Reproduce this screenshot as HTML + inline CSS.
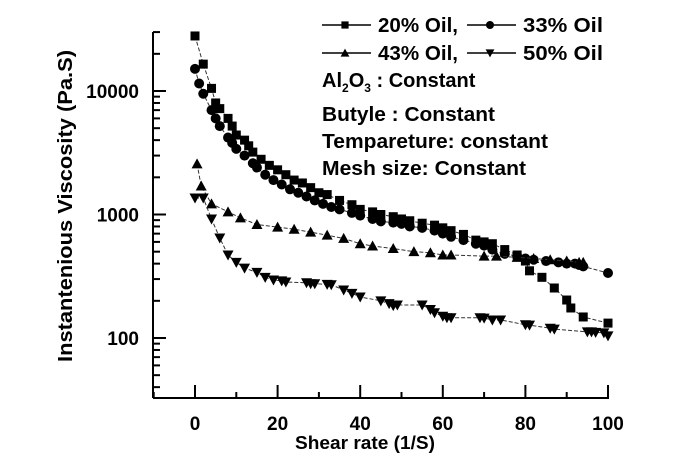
<!DOCTYPE html>
<html><head><meta charset="utf-8"><style>
body{margin:0;background:#fff}
svg{display:block;font-family:"Liberation Sans",Arial,sans-serif;font-weight:bold}
</style></head><body>
<svg id="c" width="695" height="464">
<g id="axes"></g><g id="series"></g>
<g font-size="20">
 <g id="leg"></g>
 <text x="322" y="87">Al<tspan font-size="12" dy="5">2</tspan><tspan dy="-5">O</tspan><tspan font-size="12" dy="5">3</tspan><tspan dy="-5"> : Constant</tspan></text>
 <text x="322" y="121" textLength="173" lengthAdjust="spacingAndGlyphs">Butyle : Constant</text>
 <text x="322" y="148" textLength="226" lengthAdjust="spacingAndGlyphs">Tempareture: constant</text>
 <text x="322" y="175" textLength="204" lengthAdjust="spacingAndGlyphs">Mesh size: Constant</text>
</g>
<text x="365" y="449" font-size="18" text-anchor="middle" textLength="140" lengthAdjust="spacingAndGlyphs">Shear rate (1/S)</text>
<text transform="translate(72,206) rotate(-90)" font-size="20" text-anchor="middle" textLength="312" lengthAdjust="spacingAndGlyphs">Instantenious Viscosity (Pa.S)</text>
</svg>
<script>
const xTicks=[0,20,40,60,80,100];
const yTicks=[100,1000,10000];
const names=["20% Oil,","33% Oil","43% Oil,","50% Oil"];
const x20=[0,2,4,5,6,8,9,10,12,13,14,16,18,20,22,24,26,28,30,32,35,38,40,43,45,48,50,52,55,58,60,62,65,68,70,72,75,78,80,81,84,87,90,91,94,100];
const y20=[27900,16500,10500,8000,7200,6000,5200,4400,4000,3600,3200,2800,2500,2300,2100,1900,1800,1650,1500,1450,1300,1200,1100,1050,1000,960,920,890,850,820,780,740,690,620,600,580,520,470,420,350,310,254,203,175,148,132];
const x33=[0,1,2,4,5,6,8,9,10,12,14,15,17,19,21,23,25,27,29,31,33,35,38,40,43,45,48,50,52,55,58,60,62,65,68,70,72,75,78,80,82,85,88,90,92,93,94,100];
const y33=[15100,11500,9500,7000,6000,5200,4200,3800,3400,3000,2600,2400,2100,1900,1750,1600,1500,1400,1300,1220,1150,1100,1030,980,920,880,860,840,800,780,740,700,660,620,580,560,520,480,460,440,430,420,410,400,400,390,380,336];
const x43=[0.5,1.5,4,8,11,15,20,24,28,32,36,40,43,48,53,57,60,62,70,73,78,82,86,90,93,94];
const y43=[2570,1700,1220,1050,940,830,790,760,720,680,640,580,556,530,500,490,470,470,460,460,450,440,430,420,410,410];
const x50=[0,2,4,6,8,10,12,15,17,19,21,22,27,28,29,32,33,36,38,40,45,47,48,49,55,57,58,60,61,62,69,70,72,74,80,81,86,87,95,96,97,99,100];
const y50=[1360,1360,920,645,470,410,368,340,310,295,290,284,280,275,275,272,270,245,230,215,200,190,183,185,185,170,160,150,146,146,146,145,140,140,128,127,120,118,112,112,111,110,104];
const X=v=>195+4.13*v, Y=v=>338-123.5*Math.log10(v/100);
const NS="http://www.w3.org/2000/svg";
function mk(t,a,p){const e=document.createElementNS(NS,t);for(const k in a)e.setAttribute(k,a[k]);p.appendChild(e);return e;}
const ax=document.getElementById('axes');
const la=mk('line',{x1:153,y1:32,x2:153,y2:398,stroke:'#000','stroke-width':2},ax);


const lb=mk('line',{x1:153,y1:398,x2:609,y2:398,stroke:'#000','stroke-width':2},ax);


for(let v=-10;v<=100;v+=10){const maj=v%20==0;mk('line',{x1:X(v),x2:X(v),y1:398,y2:maj?385:392,stroke:'#000','stroke-width':2},ax);}
xTicks.forEach(v=>{const t=mk('text',{x:X(v),y:430,'text-anchor':'middle','font-size':19},ax);t.textContent=v;

});
for(let d=10;d<=10000;d*=10)for(let m=1;m<=9;m++){const v=d*m;if(Y(v)<31||Y(v)>398)continue;const maj=m==1&&d>=100;mk('line',{x1:153,x2:maj?166:160,y1:Y(v),y2:Y(v),stroke:'#000','stroke-width':2},ax);}
yTicks.forEach(v=>{const t=mk('text',{x:139,y:Y(v)+7,'text-anchor':'end','font-size':19},ax);t.textContent=v;

});
function marker(k,cx,cy,p,s){s=s||1;
 if(k==0)return mk('rect',{x:cx-4.5*s,y:cy-4.5*s,width:9*s,height:9*s},p);
 if(k==1)return mk('circle',{cx,cy,r:5*s},p);
 if(k==2)return mk('path',{d:`M${cx} ${cy-5.5*s}L${cx+5.5*s} ${cy+4.5*s}L${cx-5.5*s} ${cy+4.5*s}Z`},p);
 return mk('path',{d:`M${cx} ${cy+5.5*s}L${cx+5.5*s} ${cy-4.5*s}L${cx-5.5*s} ${cy-4.5*s}Z`},p);}
const sg=document.getElementById('series');
[[x20,y20],[x33,y33],[x43,y43],[x50,y50]].forEach(([xs,ys],k)=>{
 const g=mk('g',{},sg);
 
 
 mk('polyline',{points:xs.map((x,i)=>X(x)+','+Y(ys[i])).join(' '),fill:'none',stroke:'#333','stroke-width':1,'stroke-dasharray':'4 2'},g);
 xs.forEach((x,i)=>{const m=marker(k,X(x),Y(ys[i]),g);
 
 });
});
const lg=document.getElementById('leg');
names.forEach((n,k)=>{const col=k%2,row=Math.floor(k/2);const x0=col?467:322,y0=row?53:25;
 const g=mk('g',{},lg);
 
 
 mk('line',{x1:x0,x2:x0+49,y1:y0,y2:y0,stroke:'#000','stroke-width':1.5},g);
 marker(k,x0+23,y0,g,0.8);
 const t=mk('text',{x:x0+56,y:y0+7,'font-size':20,textLength:80,lengthAdjust:'spacingAndGlyphs'},g);t.textContent=n;});
</script>
</body></html>
